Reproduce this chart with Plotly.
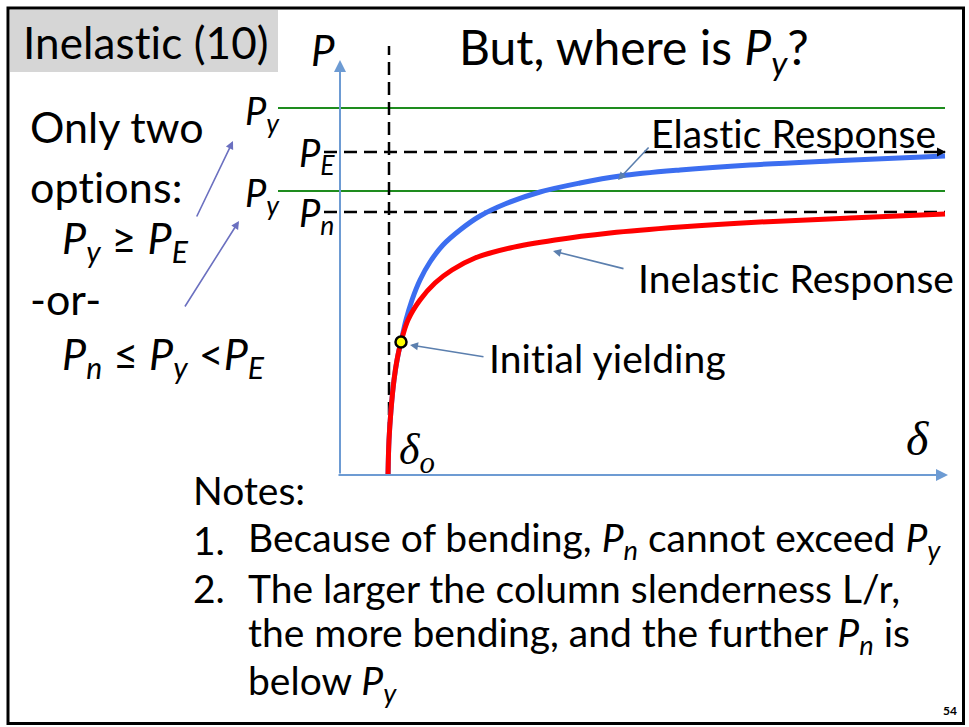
import plotly.graph_objects as go

# ---------------- data ----------------
# curve coordinates in chart units (delta horizontal, P vertical)
elastic_delta = [0.48, 0.49, 0.51, 0.54, 0.58, 0.61, 0.66, 0.72, 0.80, 0.90, 1.03, 1.20,
                 1.40, 1.65, 2.00, 2.40, 2.80, 3.40, 4.10, 4.90, 6.05]
elastic_P = [0.00, 0.35, 0.65, 0.95, 1.20, 1.33, 1.55, 1.75, 1.95, 2.13, 2.30, 2.45,
             2.59, 2.71, 2.83, 2.92, 2.99, 3.05, 3.10, 3.14, 3.19]
inelastic_delta = [0.48, 0.49, 0.51, 0.54, 0.57, 0.61, 0.68, 0.80, 0.95, 1.12, 1.35, 1.70,
                   2.15, 2.70, 3.40, 4.20, 5.10, 6.05]
inelastic_P = [0.00, 0.35, 0.65, 0.95, 1.15, 1.33, 1.55, 1.75, 1.92, 2.05, 2.17, 2.27,
               2.35, 2.42, 2.48, 2.53, 2.57, 2.61]
yield_point = [0.61, 1.33]          # initial yielding (delta, P)
levels = {"Py_high": 3.67, "PE": 3.23, "Py_low": 2.84, "Pn": 2.63}
delta_o = 0.49
delta_end = 6.05

# ---------------- geometry helpers (1 unit = 100 px, origin at axes corner) ----------
OX, OY = 340, 475
def X(px): return (px - OX) / 100.0
def Y(py): return (OY - py) / 100.0

W, H = 969, 727
SANS = "Lato"
SERIF = "Liberation Serif"

def nolig(s):
    # tiny letter spacing switches off the 'ti' ligature of the font
    return '<span style="letter-spacing:0.1px">' + s + '</span>'

fig = go.Figure()

shapes = [
    dict(type="rect", x0=X(10), x1=X(278), y0=Y(10), y1=Y(72), fillcolor="#d6d6d6",
         line=dict(width=0), layer="below"),
    dict(type="rect", x0=X(8), x1=X(963.5), y0=Y(8), y1=Y(723.5), line=dict(color="black", width=3)),
]
fig.update_layout(shapes=shapes)

DASH = "13px,7px"
# green P_y lines
for key in ("Py_high", "Py_low"):
    fig.add_trace(go.Scatter(x=[X(278), delta_end], y=[levels[key]] * 2, mode="lines",
                             line=dict(color="#1e8c1e", width=2), hoverinfo="skip"))
# dashed P_E and P_n lines
for key in ("PE", "Pn"):
    fig.add_trace(go.Scatter(x=[X(324), delta_end], y=[levels[key]] * 2, mode="lines",
                             line=dict(color="black", width=2.5, dash=DASH), hoverinfo="skip"))
# dashed delta_o vertical
fig.add_trace(go.Scatter(x=[delta_o, delta_o], y=[0, Y(46)], mode="lines",
                         line=dict(color="black", width=2.5, dash=DASH), hoverinfo="skip"))

# curves
fig.add_trace(go.Scatter(x=elastic_delta, y=elastic_P, mode="lines",
                         line=dict(color="#3c6ef0", width=5, shape="spline"), hoverinfo="skip"))
fig.add_trace(go.Scatter(x=inelastic_delta, y=inelastic_P, mode="lines",
                         line=dict(color="#ff0000", width=5, shape="spline"), hoverinfo="skip"))
fig.add_trace(go.Scatter(x=[yield_point[0]], y=[yield_point[1]], mode="markers",
                         marker=dict(color="#ffff00", size=11, line=dict(color="black", width=2.5)),
                         hoverinfo="skip"))

ann = []
def arrow(x0, y0, x1, y1, color, width=1.6, head=2, size=1.0):
    ann.append(dict(x=X(x1), y=Y(y1), ax=X(x0), ay=Y(y0), xref="x", yref="y",
                    axref="x", ayref="y", showarrow=True, arrowhead=head, arrowsize=size,
                    arrowwidth=width, arrowcolor=color, text=""))

def text(s, x, y, size, family=SANS, xanchor="left", color="black"):
    ann.append(dict(x=X(x), y=Y(y), xref="x", yref="y", text=s, showarrow=False,
                    xanchor=xanchor, yanchor="middle", font=dict(family=family, size=size, color=color)))

AX = "#6d9bd3"
# axes
arrow(OX, OY, OX, 60, AX, width=2, head=2, size=1.2)
arrow(337, OY, 948, OY, AX, width=2, head=2, size=1.2)
# P_E line end arrowhead
arrow(930, 152, 946, 152, "black", width=1.5, head=2, size=1.2)

# pointer arrows
PT = "#5b7fae"
arrow(650, 146, 618, 180, PT)
arrow(625, 269, 553, 251, PT)
arrow(485, 357, 410, 345, PT)
LA = "#6b70c0"
arrow(196, 218, 233, 141, LA)
arrow(184, 308, 239, 221, LA)

BIG = 43
MID = 39
text(nolig("Inelastic (10)"), 21, 42, 44)
text("<i>P</i>", 309, 50, 42)
text("But, where is <i>P<sub>y</sub></i>?", 457, 50, 48)
text("Only two", 28, 126, BIG)
text(nolig("options:"), 28, 186, BIG)
text("<i>P<sub>y</sub></i> ≥ <i>P<sub>E</sub></i>", 60, 240, BIG)
text("-or-", 28, 298, BIG)
text("<i>P<sub>n</sub></i> ≤ <i>P<sub>y</sub></i> &lt;<i>P<sub>E</sub></i>", 60, 356, BIG)

text("<i>P<sub>y</sub></i>", 243, 113, 38)
text("<i>P<sub>y</sub></i>", 243, 195, 38)
text("<i>P<sub>E</sub></i>", 297, 155, 38)
text("<i>P<sub>n</sub></i>", 297, 215, 38)

text(nolig("Elastic Response"), 649, 133, MID)
text(nolig("Inelastic Response"), 636, 278, MID)
text(nolig("Initial yielding"), 487, 358, MID)

text("<i>δ<sub>o</sub></i>", 397, 452, 44, family=SERIF)
text("<i>δ</i>", 931, 438, 48, family=SERIF, xanchor="right")

text("Notes:", 191, 490, MID)
text("1.", 191, 540, MID)
text("Because of bending, <i>P<sub>n</sub></i> cannot exceed <i>P<sub>y</sub></i>", 246, 540, MID)
text("2.", 191, 588, MID)
text("The larger the column slenderness L/r,", 246, 588, MID)
text("the more bending, and the further <i>P<sub>n</sub></i> is", 246, 635, MID)
text("below <i>P<sub>y</sub></i>", 246, 683, MID)
text("<b>54</b>", 941, 710, 12)

fig.update_layout(
    annotations=ann,
    width=W, height=H,
    margin=dict(l=0, r=0, t=0, b=0),
    paper_bgcolor="white", plot_bgcolor="white",
    showlegend=False,
    xaxis=dict(range=[X(0), X(W)], visible=False, fixedrange=True),
    yaxis=dict(range=[Y(H), Y(0)], visible=False, fixedrange=True),
)

fig.write_html("out.html", config={"displayModeBar": False},
               post_script="document.body.style.margin='0';document.body.style.overflow='hidden';")
